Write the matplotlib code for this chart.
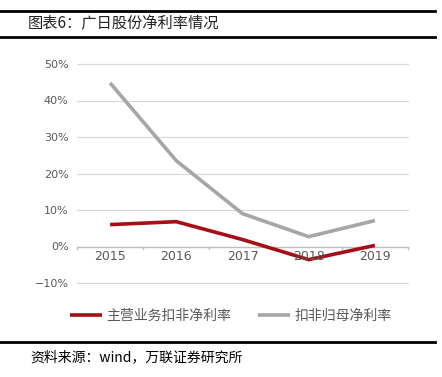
import matplotlib
matplotlib.use('Agg')
import matplotlib.pyplot as plt
from matplotlib.lines import Line2D

plt.rcParams['font.family'] = ['Noto Sans CJK SC', 'DejaVu Sans']

years = ['2015', '2016', '2017', '2018', '2019']
main_margin = [0.060, 0.068, 0.019, -0.036, 0.003]    # 主营业务扣非净利率
parent_margin = [0.448, 0.235, 0.090, 0.027, 0.071]   # 扣非归母净利率
yticks = [-0.1, 0.0, 0.1, 0.2, 0.3, 0.4, 0.5]

RED = '#A50F15'; GRAY = '#A6A6A6'; TXT = '#595959'

fig = plt.figure(figsize=(4.42, 3.77), dpi=100)
fig.patch.set_facecolor('white')

# header / footer rules
fig.add_artist(Line2D([0, 0.985], [1-11/377]*2, color='black', lw=2))
fig.add_artist(Line2D([0, 0.985], [1-37/377]*2, color='black', lw=2))
fig.add_artist(Line2D([0, 0.985], [1-342/377]*2, color='black', lw=2))
fig.text(28/442, 1-24/377, '图表6：广日股份净利率情况', fontsize=11, va='center', ha='left', color='#222222')
fig.text(30/442, 1-357/377, '资料来源：wind，万联证券研究所', fontsize=10, va='center', ha='left',
         color='black', style='italic')

ax = fig.add_axes([77/442, 1-283/377, 331/442, 219/377])
x = list(range(len(years)))
ax.plot(x, main_margin, color=RED, lw=2.6, solid_capstyle='butt', label='主营业务扣非净利率', zorder=3)
ax.plot(x, parent_margin, color=GRAY, lw=2.6, solid_capstyle='butt', label='扣非归母净利率', zorder=3)

ax.set_xlim(-0.5, len(years)-0.5)
ax.set_ylim(-0.1, 0.5)
ax.set_yticks(yticks)
ax.set_yticklabels([f'{int(round(v*100))}%'.replace('-', '−') for v in yticks])
for v in yticks:
    if v != 0:
        ax.axhline(v, color='#D9D9D9', lw=0.9, zorder=1, clip_on=False)
ax.axhline(0, color='#BFBFBF', lw=1.0, zorder=2)
for b in [i - 0.5 for i in range(len(years)+1)]:
    ax.plot([b, b], [0, -0.008], color='#BFBFBF', lw=1.0, zorder=2, clip_on=False)

ax.set_xticks(x)
ax.set_xticklabels([])
for i, yr in enumerate(years):
    ax.text(i, -0.027, yr, ha='center', va='center', fontsize=9, color=TXT, family='DejaVu Sans')
for s in ax.spines.values():
    s.set_visible(False)
ax.tick_params(axis='both', length=0, labelsize=8, colors=TXT, pad=6)
for t in ax.get_yticklabels():
    t.set_family('DejaVu Sans')

ax.legend(loc='upper left', bbox_to_anchor=(-0.06, -0.06), ncol=2, frameon=False, fontsize=10,
          handlelength=2.3, columnspacing=1.9, labelcolor=TXT, handletextpad=0.35)

fig.savefig('out.png', dpi=100)
